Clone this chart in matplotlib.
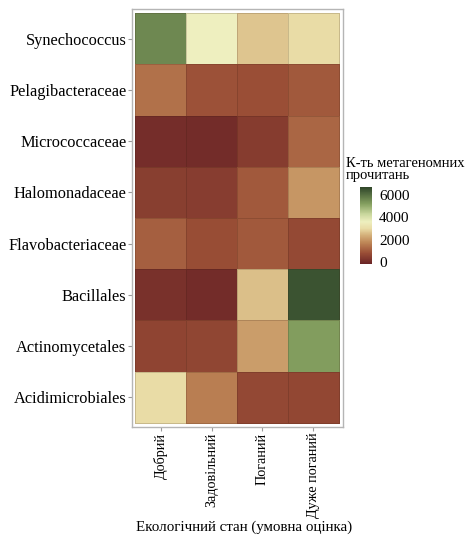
import numpy as np
import matplotlib
matplotlib.use("Agg")
import matplotlib.pyplot as plt
from matplotlib.colors import LinearSegmentedColormap, Normalize

plt.rcParams['font.family'] = ['Liberation Serif', 'DejaVu Serif']

# taxa, top to bottom
taxa = ['Synechococcus', 'Pelagibacteraceae', 'Micrococcaceae', 'Halomonadaceae',
        'Flavobacteriaceae', 'Bacillales', 'Actinomycetales', 'Acidimicrobiales']
states = ['Добрий', 'Задовільний', 'Поганий', 'Дуже поганий']

# read counts per state (columns follow states)
synechococcus = [5600, 3600, 2700, 3000]
pelagibacteraceae = [1400, 850, 800, 1000]
micrococcaceae = [50, 20, 400, 1200]
halomonadaceae = [450, 430, 1000, 2000]
flavobacteriaceae = [1100, 780, 1000, 700]
bacillales = [120, 20, 2600, 6500]
actinomycetales = [600, 620, 2100, 5250]
acidimicrobiales = [3000, 1600, 680, 650]

counts = np.array([synechococcus, pelagibacteraceae, micrococcaceae, halomonadaceae,
                   flavobacteriaceae, bacillales, actinomycetales, acidimicrobiales])

# colour scale, dark red -> tan -> pale yellow -> dark green
vmin, vmax = -180, 6716
stops = [(-180, '#6a2426'), (800, '#9a4e36'), (1700, '#bd8455'), (2400, '#d4b07a'),
         (3000, '#e9dca6'), (3600, '#eeefbf'), (4300, '#c8d69c'), (5200, '#85a060'),
         (6716, '#2f4629')]
cmap = LinearSegmentedColormap.from_list(
    'reads', [((v - vmin) / (vmax - vmin), c) for v, c in stops])
norm = Normalize(vmin=vmin, vmax=vmax)

W, H = 468, 537
fig = plt.figure(figsize=(W / 100, H / 100), dpi=100)

ax = fig.add_axes([132 / W, (H - 427) / H, (343 - 132) / W, (427 - 9) / H])
x = np.arange(len(states) + 1) - 0.5
y = np.arange(len(taxa) + 1) - 0.5
ax.pcolormesh(x, y, counts, cmap=cmap, norm=norm,
              edgecolors=(0.2, 0.1, 0.05, 0.18), linewidth=0.6)
ax.set_xlim(-0.56, 3.58)
ax.set_ylim(7.58, -0.58)

ax.set_xticks(range(len(states)))
ax.set_xticklabels(states, rotation=90, fontsize=10.2)
ax.set_yticks(range(len(taxa)))
ax.set_yticklabels(taxa, fontsize=11.8)
ax.tick_params(length=3, width=0.8, color='#9a9a9a', pad=1)
for s in ax.spines.values():
    s.set_color('#b5b5b5')
    s.set_linewidth(1.0)
fig.text(244 / W, (H - 527) / H, 'Екологічний стан (умовна оцінка)', fontsize=10.8,
         ha='center', va='center')

# legend
cax = fig.add_axes([360 / W, (H - 264) / H, 12 / W, (264 - 187) / H])
sm = plt.cm.ScalarMappable(norm=norm, cmap=cmap)
cb = fig.colorbar(sm, cax=cax, ticks=[0, 2000, 4000, 6000])
cb.outline.set_visible(False)
cb.ax.tick_params(length=2, width=0.6, color='white', labelsize=11, pad=3)
fig.text(346 / W, (H - 157) / H, 'К-ть метагеномних\nпрочитань', fontsize=10.5,
         va='top', ha='left', linespacing=0.85)

fig.savefig('out.png', dpi=100)
